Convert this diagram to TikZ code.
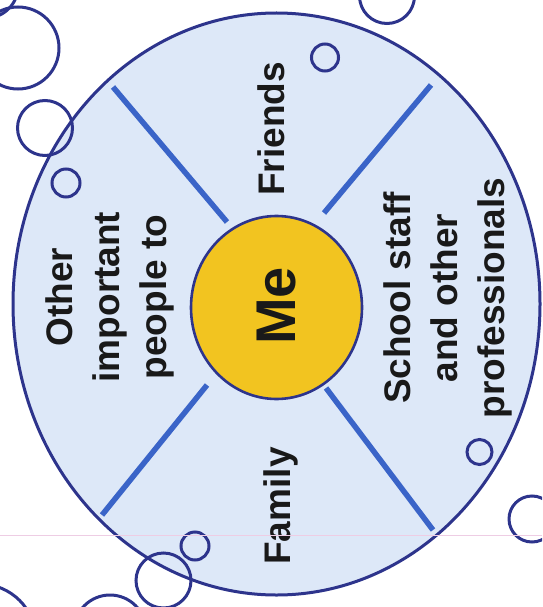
\documentclass[tikz,border=0pt]{standalone}
\usepackage{fontspec}
\setmainfont{Liberation Sans}
\usetikzlibrary{shapes.geometric}
\definecolor{navy}{RGB}{45,52,140}
\definecolor{paleblue}{RGB}{221,232,248}
\definecolor{spokeblue}{RGB}{58,100,200}
\definecolor{meyellow}{RGB}{242,196,32}
\definecolor{scanline}{RGB}{238,205,228}
\begin{document}
\begin{tikzpicture}[x=1pt,y=-1pt,
  rim/.style={ellipse,draw=navy,line width=3pt,fill=paleblue,inner sep=0pt},
  core/.style={ellipse,draw=navy,line width=2.6pt,fill=meyellow,inner sep=0pt},
  spokeline/.style={draw=spokeblue,line width=5.5pt},
  bubble/.style={draw=navy,line width=3pt},
  lbl/.style={rotate=90,font=\bfseries\fontsize{37}{47}\selectfont,align=center,inner sep=0pt,text=black!90},
  melbl/.style={rotate=90,font=\bfseries\fontsize{56}{60}\selectfont,inner sep=0pt,text=black!90}]
\useasboundingbox (0,0) rectangle (542,607);
\clip (0,0) rectangle (542,607);
\node[rim,minimum width=527pt,minimum height=582pt] (ring) at (276.5,304) {};
% spokes
\coordinate (ulo) at (113,87);  \coordinate (uli) at (227,222);
\coordinate (uro) at (431,85);  \coordinate (uri) at (324,213);
\coordinate (llo) at (102,515); \coordinate (lli) at (207,385);
\coordinate (lro) at (433,530); \coordinate (lri) at (326,388);
\draw[spokeline] (ulo) -- (uli);
\draw[spokeline] (uro) -- (uri);
\draw[spokeline] (llo) -- (lli);
\draw[spokeline] (lro) -- (lri);
\node[core,minimum width=171pt,minimum height=183pt] (me) at (276.5,307.5) {};
\node[melbl,anchor=base] (metext) at (295,306) {Me};
\node[lbl,anchor=base] (friends) at (284,129) {Friends};
\node[lbl,anchor=base] (family) at (290,506) {Family};
\node[lbl] (others) at (110,297) {Other\\important\\people to};
\node[lbl] (school) at (448,298) {School staff\\and other\\professionals};
% bubbles
\node[bubble,circle,minimum size=82pt,inner sep=0pt] (b1) at (18,48) {};
\node[bubble,circle,minimum size=67pt,inner sep=0pt] (b0) at (-15,-15) {};
\node[bubble,circle,minimum size=55pt,inner sep=0pt] (b2) at (45,128) {};
\node[bubble,circle,minimum size=28pt,inner sep=0pt] (b3) at (66,183) {};
\node[bubble,circle,minimum size=55pt,inner sep=0pt] (b4) at (387,-4) {};
\node[bubble,circle,minimum size=27pt,inner sep=0pt] (b5) at (325,57.5) {};
\node[bubble,circle,minimum size=25pt,inner sep=0pt] (b6) at (479.5,452) {};
\node[bubble,circle,minimum size=46pt,inner sep=0pt] (b7) at (532,519) {};
\node[bubble,circle,minimum size=28pt,inner sep=0pt] (b8) at (195,546) {};
\node[bubble,circle,minimum size=55pt,inner sep=0pt] (b9) at (163.5,580.5) {};
\node[bubble,circle,minimum size=72pt,inner sep=0pt] (b10) at (110,631) {};
\node[bubble,circle,minimum size=112pt,inner sep=0pt] (b11) at (-20,640) {};
\draw[scanline,line width=0.8pt] (0,535) -- (542,535);
\end{tikzpicture}
\end{document}
